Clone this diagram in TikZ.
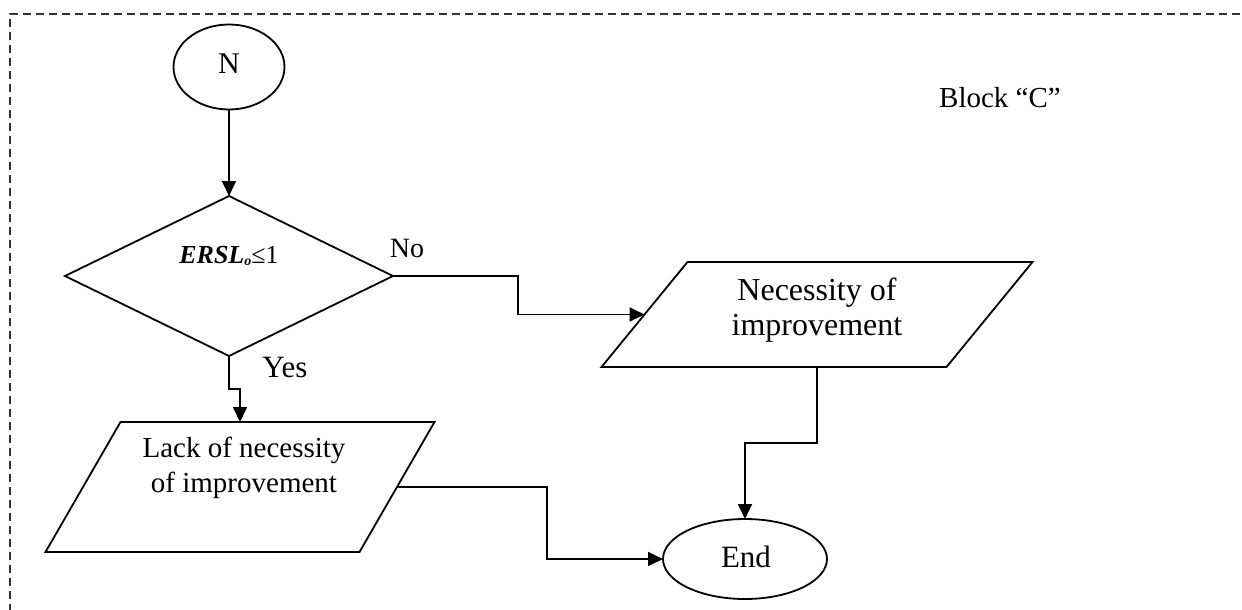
\documentclass[tikz,border=0pt]{standalone}
\usepackage{fontspec}
\setmainfont{Liberation Serif}
\usetikzlibrary{shapes.geometric,arrows.meta}
\tikzset{
  shapeline/.style={draw=black,line width=1.8pt,inner sep=0pt,outer sep=0pt},
  oval/.style={shapeline,ellipse},
  decision/.style={shapeline,diamond},
  io/.style={shapeline,rectangle,transform shape},
  txt/.style={inner sep=0pt,align=center},
  fs/.style={font=\fontsize{#1}{35}\selectfont},
  arr/.style={line width=1.8pt,-{Triangle[length=15pt,width=14pt]}},
  border/.style={line width=1.3pt,draw=black!80,dash pattern=on 8pt off 5pt}
}
\begin{document}
\begin{tikzpicture}[x=1pt,y=-1pt]
\useasboundingbox (0,0) rectangle (1242,610);
% dashed frame (top and left edges visible)
\draw[border] (10,612) -- (10,14) -- (1244,14);

% shapes
\node[oval,minimum width=111pt,minimum height=85pt] (N) at (229,67) {};
\node[txt,fs=30] (Nt) at (229,64) {N};

\node[decision,minimum width=328pt,minimum height=160pt] (D) at (229,276) {};
\node[txt,fs=26] (Dt) at (229,256) {{\bfseries\itshape ERSL\raisebox{-0.15ex}{\fontsize{14}{14}\selectfont o}}≤1};

\node[io,minimum width=345pt,minimum height=105pt,xslant=0.819] (R) at (817,314.5) {};
\node[txt,fs=32] (Rt) at (817,310) {Necessity of\\improvement};

\node[io,minimum width=314pt,minimum height=130pt,xslant=0.577] (L) at (240,487) {};
\node[txt,fs=29] (Lt) at (244,468) {Lack of necessity\\of improvement};

\node[oval,minimum width=164pt,minimum height=80pt] (E) at (745,559) {};
\node[txt,fs=31] (Et) at (746,557) {End};

% labels
\node[txt,fs=28] (no) at (407,248) {No};
\node[txt,fs=31] (yes) at (285,367) {Yes};
\node[txt,fs=29] (blk) at (1000,98) {Block “C”};

% connectors
\draw[arr] (N.south) -- (D.north);
\draw[arr] (D.east) -- ++(125,0) |- (R.west);
\draw[arr] (D.south) -- ++(0,33) -| (L.center |- L.north);
\draw[arr] (R.center |- R.south) -- ++(0,76) -| (E.north);
\draw[arr] (L.east) -- ++(150,0) |- (E.west);
\end{tikzpicture}
\end{document}
